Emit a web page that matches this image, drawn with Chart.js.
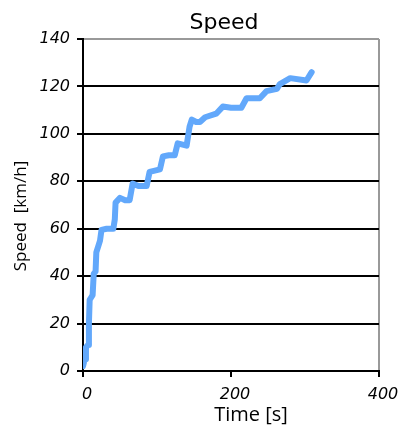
<!DOCTYPE html>
<html>
<head>
<meta charset="utf-8">
<script src="https://cdn.jsdelivr.net/npm/chart.js@4/dist/chart.umd.min.js"></script>
<style>
  html, body { margin: 0; padding: 0; background: #fff; }
  #wrap { width: 399px; height: 427px; }
</style>
</head>
<body>
<div id="wrap"><canvas id="speedChart" width="399" height="427"></canvas></div>
<script>
// values
const times  = [0, 2, 3, 4, 7, 8, 9, 11, 13, 14.5, 17, 18, 21, 23, 25, 32, 41, 43, 44, 50, 57, 63, 67, 75, 86, 90, 104, 108, 116, 124, 128, 140, 144, 147, 153, 158, 165, 180, 189, 200, 214, 221, 239, 248, 262, 266, 280, 302, 309];
const speeds = [2, 4.5, 5, 10, 11, 20, 30, 31, 32, 41, 42, 50, 53, 55, 59.5, 60, 60, 64, 71, 73, 72, 72, 79, 78, 78, 84, 85, 90.5, 91, 91, 96, 95, 103, 106, 105, 105, 107, 108.5, 111.5, 111, 111, 115, 115, 118, 119, 121, 123.5, 122.5, 126];
const xTicks = [0, 200, 400];
const yTicks = [0, 20, 40, 60, 80, 100, 120, 140];

const points = times.map((t, i) => ({ x: t, y: speeds[i] }));

// titles are drawn by hand because they are not centred on the axes
const titlesPlugin = {
    id: 'titles',
    afterDraw(chart) {
        const ctx = chart.ctx;
        ctx.save();
        ctx.fillStyle = '#000';
        ctx.textAlign = 'center';
        ctx.textBaseline = 'alphabetic';
        ctx.font = '22px "DejaVu Sans"';
        ctx.fillText('Speed', 224, 29);
        ctx.font = '20px "Open Sans"';
        ctx.fillText('Time [s]', 251, 421);
        ctx.translate(26, 216);
        ctx.rotate(-Math.PI / 2);
        ctx.font = '17px "Open Sans"';
        ctx.fillText('Speed  [km/h]', 0, 0);
        ctx.restore();
    }
};

const ctx = document.getElementById('speedChart').getContext('2d');
const myChart = new Chart(ctx, {
    type: 'line',
    data: {
        datasets: [{
            label: 'Speed',
            data: points,
            borderColor: '#62a8fb',
            backgroundColor: '#62a8fb',
            borderWidth: 6,
            borderJoinStyle: 'round',
            borderCapStyle: 'round',
            pointRadius: 0,
            tension: 0,
            fill: false
        }]
    },
    options: {
        responsive: false,
        animation: false,
        layout: { padding: { top: 39, right: 20, left: 0, bottom: 0 } },
        plugins: {
            legend: { display: false },
            title: { display: false },
            tooltip: { enabled: false }
        },
        scales: {
            x: {
                type: 'linear',
                min: 0,
                max: 400,
                afterBuildTicks: axis => { axis.ticks = xTicks.map(v => ({ value: v })); },
                afterFit: axis => {
                    axis.height = 56;
                    axis.paddingLeft = 0;
                    axis.paddingRight = 0;
                },
                border: { color: '#000', width: 2 },
                grid: {
                    lineWidth: 2,
                    color: c => c.tick && c.tick.value === 400 ? '#999' : 'rgba(0,0,0,0)',
                    tickColor: '#000',
                    tickLength: 6
                },
                ticks: {
                    color: '#000',
                    padding: 8,
                    labelOffset: 4,
                    maxRotation: 0,
                    font: { family: 'DejaVu Sans', size: 16, style: 'italic' }
                }
            },
            y: {
                min: 0,
                max: 140,
                afterBuildTicks: axis => { axis.ticks = yTicks.map(v => ({ value: v })); },
                afterFit: axis => {
                    axis.width = 83;
                    axis.paddingTop = 0;
                    axis.paddingBottom = 0;
                },
                border: { color: '#000', width: 2 },
                grid: {
                    lineWidth: 2,
                    color: c => c.tick && c.tick.value === 140 ? '#999' : '#000',
                    tickColor: '#000',
                    tickLength: 6
                },
                ticks: {
                    color: '#000',
                    padding: 7,
                    font: { family: 'DejaVu Sans', size: 16, style: 'italic' }
                }
            }
        }
    },
    plugins: [titlesPlugin]
});
</script>
</body>
</html>
